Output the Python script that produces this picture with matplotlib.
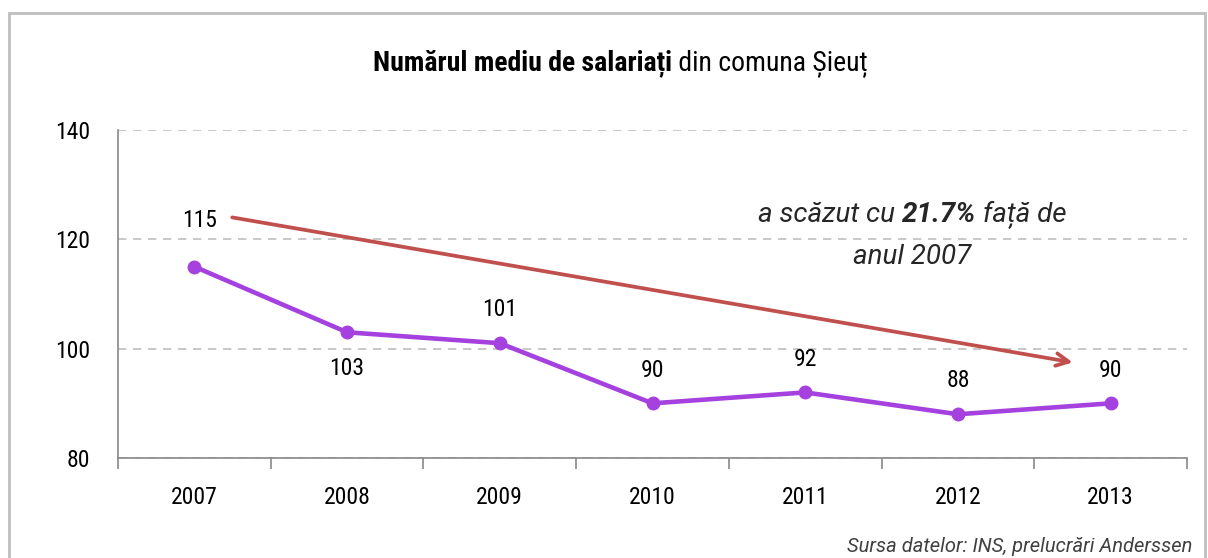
import matplotlib
matplotlib.use("Agg")
import matplotlib.pyplot as plt
import matplotlib.patches as patches
from matplotlib import font_manager

years = ["2007", "2008", "2009", "2010", "2011", "2012", "2013"]
employees = [115, 103, 101, 90, 92, 88, 90]
label_pos = ["above", "below", "above", "above", "above", "above", "above"]

installed = {f.name for f in font_manager.fontManager.ttflist}
prefs = ['Roboto Condensed', 'Liberation Sans Narrow', 'Noto Sans']
main_font = next((p for p in prefs if p in installed), 'DejaVu Sans')
wide_font = 'Roboto' if 'Roboto' in installed else 'DejaVu Sans'
plt.rcParams['font.family'] = [main_font, 'DejaVu Sans']

fig = plt.figure(figsize=(12.08, 5.58), dpi=100)
ax = fig.add_axes([0.0977, 0.1792, 0.8849, 0.5878])

# outer frame
fig.patches.append(patches.Rectangle((9 / 1208, -0.1), (1205 - 9) / 1208, 1.1 - 13 / 558,
                                     transform=fig.transFigure, fill=False,
                                     edgecolor="#BFBFBF", linewidth=2))

x = list(range(len(years)))
ax.plot(x, employees, color="#A541DE", linewidth=3.3, marker="o", markersize=9, zorder=3)

for i, (xi, v, pos) in enumerate(zip(x, employees, label_pos)):
    if pos == "above":
        off = (4, 33) if i == 0 else (0, 24)
    else:
        off = (0, -26)
    ax.annotate(str(v), (xi, v), xytext=off, textcoords="offset points",
                ha="center", va="center", fontsize=17, color="black")

# trend arrow
ax.annotate("", xy=(5.77, 97.4), xytext=(0.23, 124.1),
            arrowprops=dict(arrowstyle="->,head_length=0.9,head_width=0.45",
                            color="#C0504D", linewidth=2.7))

ax.set_xlim(-0.5, 6.5)
ax.set_ylim(80, 140)
ax.set_yticks([80, 100, 120, 140])
ax.set_xticks([i + 0.5 for i in range(-1, 7)])
ax.set_xticklabels([])
ax.set_xticks(x, minor=True)
ax.set_xticklabels(years, minor=True)
ax.tick_params(axis="x", which="major", length=8, color="#888888", width=1.2)
ax.tick_params(axis="x", which="minor", length=0, labelsize=17, pad=20)
ax.tick_params(axis="y", length=0, labelsize=17, pad=20)

ax.grid(axis="y", linestyle=(0, (5, 4)), color="#BFBFBF", linewidth=1.2)
ax.set_axisbelow(True)
for s in ["top", "right"]:
    ax.spines[s].set_visible(False)
for s in ["left", "bottom"]:
    ax.spines[s].set_color("#888888")
    ax.spines[s].set_linewidth(1.2)

fig.canvas.draw()
renderer = fig.canvas.get_renderer()


def mixed_text(parts, cx, cy, fontsize, color, family):
    # parts: list of (text, weight, style); centered at (cx, cy) in pixels
    texts = []
    for s, w, st in parts:
        t = fig.text(0, 0, s, fontsize=fontsize, fontweight=w, fontstyle=st,
                     color=color, va="center", ha="left", transform=None,
                     family=[family, 'DejaVu Sans'])
        texts.append(t)
    widths = [t.get_window_extent(renderer).width for t in texts]
    total = sum(widths)
    xcur = cx - total / 2
    for t, w in zip(texts, widths):
        t.set_position((xcur, cy))
        xcur += w


H = 558
mixed_text([("Numărul mediu de salariați", "bold", "normal"),
            (" din comuna Șieuț", "normal", "normal")], 620, H - 63, 20, "black", main_font)
mixed_text([("a scăzut cu ", "normal", "italic"),
            ("21.7%", "bold", "italic"),
            (" față de", "normal", "italic")], 912, H - 215, 20, "#262626", wide_font)
mixed_text([("anul 2007", "normal", "italic")], 912, H - 257, 20, "#262626", wide_font)

fig.text(1192 / 1208, 1 - 547 / 558, "Sursa datelor: INS, prelucrări Anderssen",
         ha="right", va="center", fontsize=14.5, fontstyle="italic", color="#404040",
         family=[wide_font, 'DejaVu Sans'])

fig.savefig("out.png", dpi=100)
